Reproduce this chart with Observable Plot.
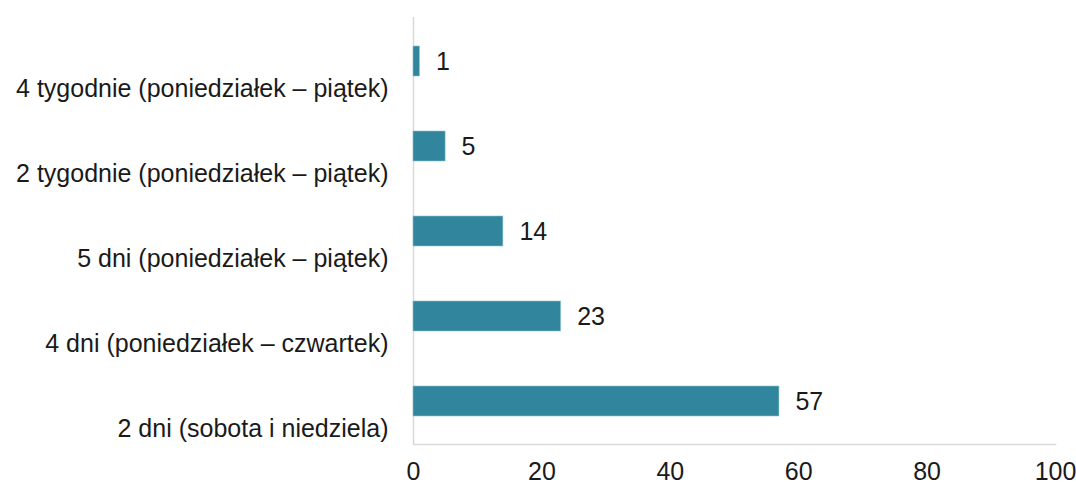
<!DOCTYPE html>
<html>
<head>
<meta charset="utf-8">
<script src="https://cdn.jsdelivr.net/npm/d3@7"></script>
<script src="https://cdn.jsdelivr.net/npm/@observablehq/plot@0.6"></script>
<style>
  html, body { margin: 0; padding: 0; background: #fff; }
  #chart svg { display: block; }
</style>
</head>
<body>
<div id="chart"></div>
<script>
const categories = [
  "4 tygodnie (poniedziałek – piątek)",
  "2 tygodnie (poniedziałek – piątek)",
  "5 dni (poniedziałek – piątek)",
  "4 dni (poniedziałek – czwartek)",
  "2 dni (sobota i niedziela)"
];
const values = [1, 5, 14, 23, 57];
const xTicks = [0, 20, 40, 60, 80, 100];

const data = categories.map((c, i) => ({category: c, value: values[i]}));
const FONT = "Liberation Sans, Arial, sans-serif";
const FS = 25;

const chart = Plot.plot({
  width: 1076,
  height: 484,
  marginLeft: 413,
  marginRight: 21,
  marginTop: 17,
  marginBottom: 40,
  style: {fontFamily: FONT, fontSize: FS + "px", color: "#1a1a1a", background: "#fff"},
  x: {domain: [0, 100], ticks: xTicks},
  y: {domain: categories, paddingInner: 0.65, paddingOuter: 0.325},
  marks: [
    Plot.frame({anchor: "bottom", stroke: "#d9d9d9", strokeWidth: 1.5}),
    Plot.ruleX([0], {stroke: "#d9d9d9", strokeWidth: 1.5}),
    Plot.barX(data, {x: "value", y: "category", fill: "#31859C", stroke: "#8cc3d2", strokeWidth: 0.6}),
    Plot.text(data, {x: "value", y: "category", text: d => String(d.value), textAnchor: "start", dx: 16, fontSize: FS, fill: "#1a1a1a"}),
    Plot.axisY({tickSize: 0, tickPadding: 25, dy: 27, fontSize: FS, label: null, fill: "#1a1a1a"}),
    Plot.axisX({ticks: xTicks, tickSize: 0, tickPadding: 18, fontSize: FS, label: null, fill: "#1a1a1a"})
  ]
});
document.getElementById("chart").appendChild(chart);
</script>
</body>
</html>
